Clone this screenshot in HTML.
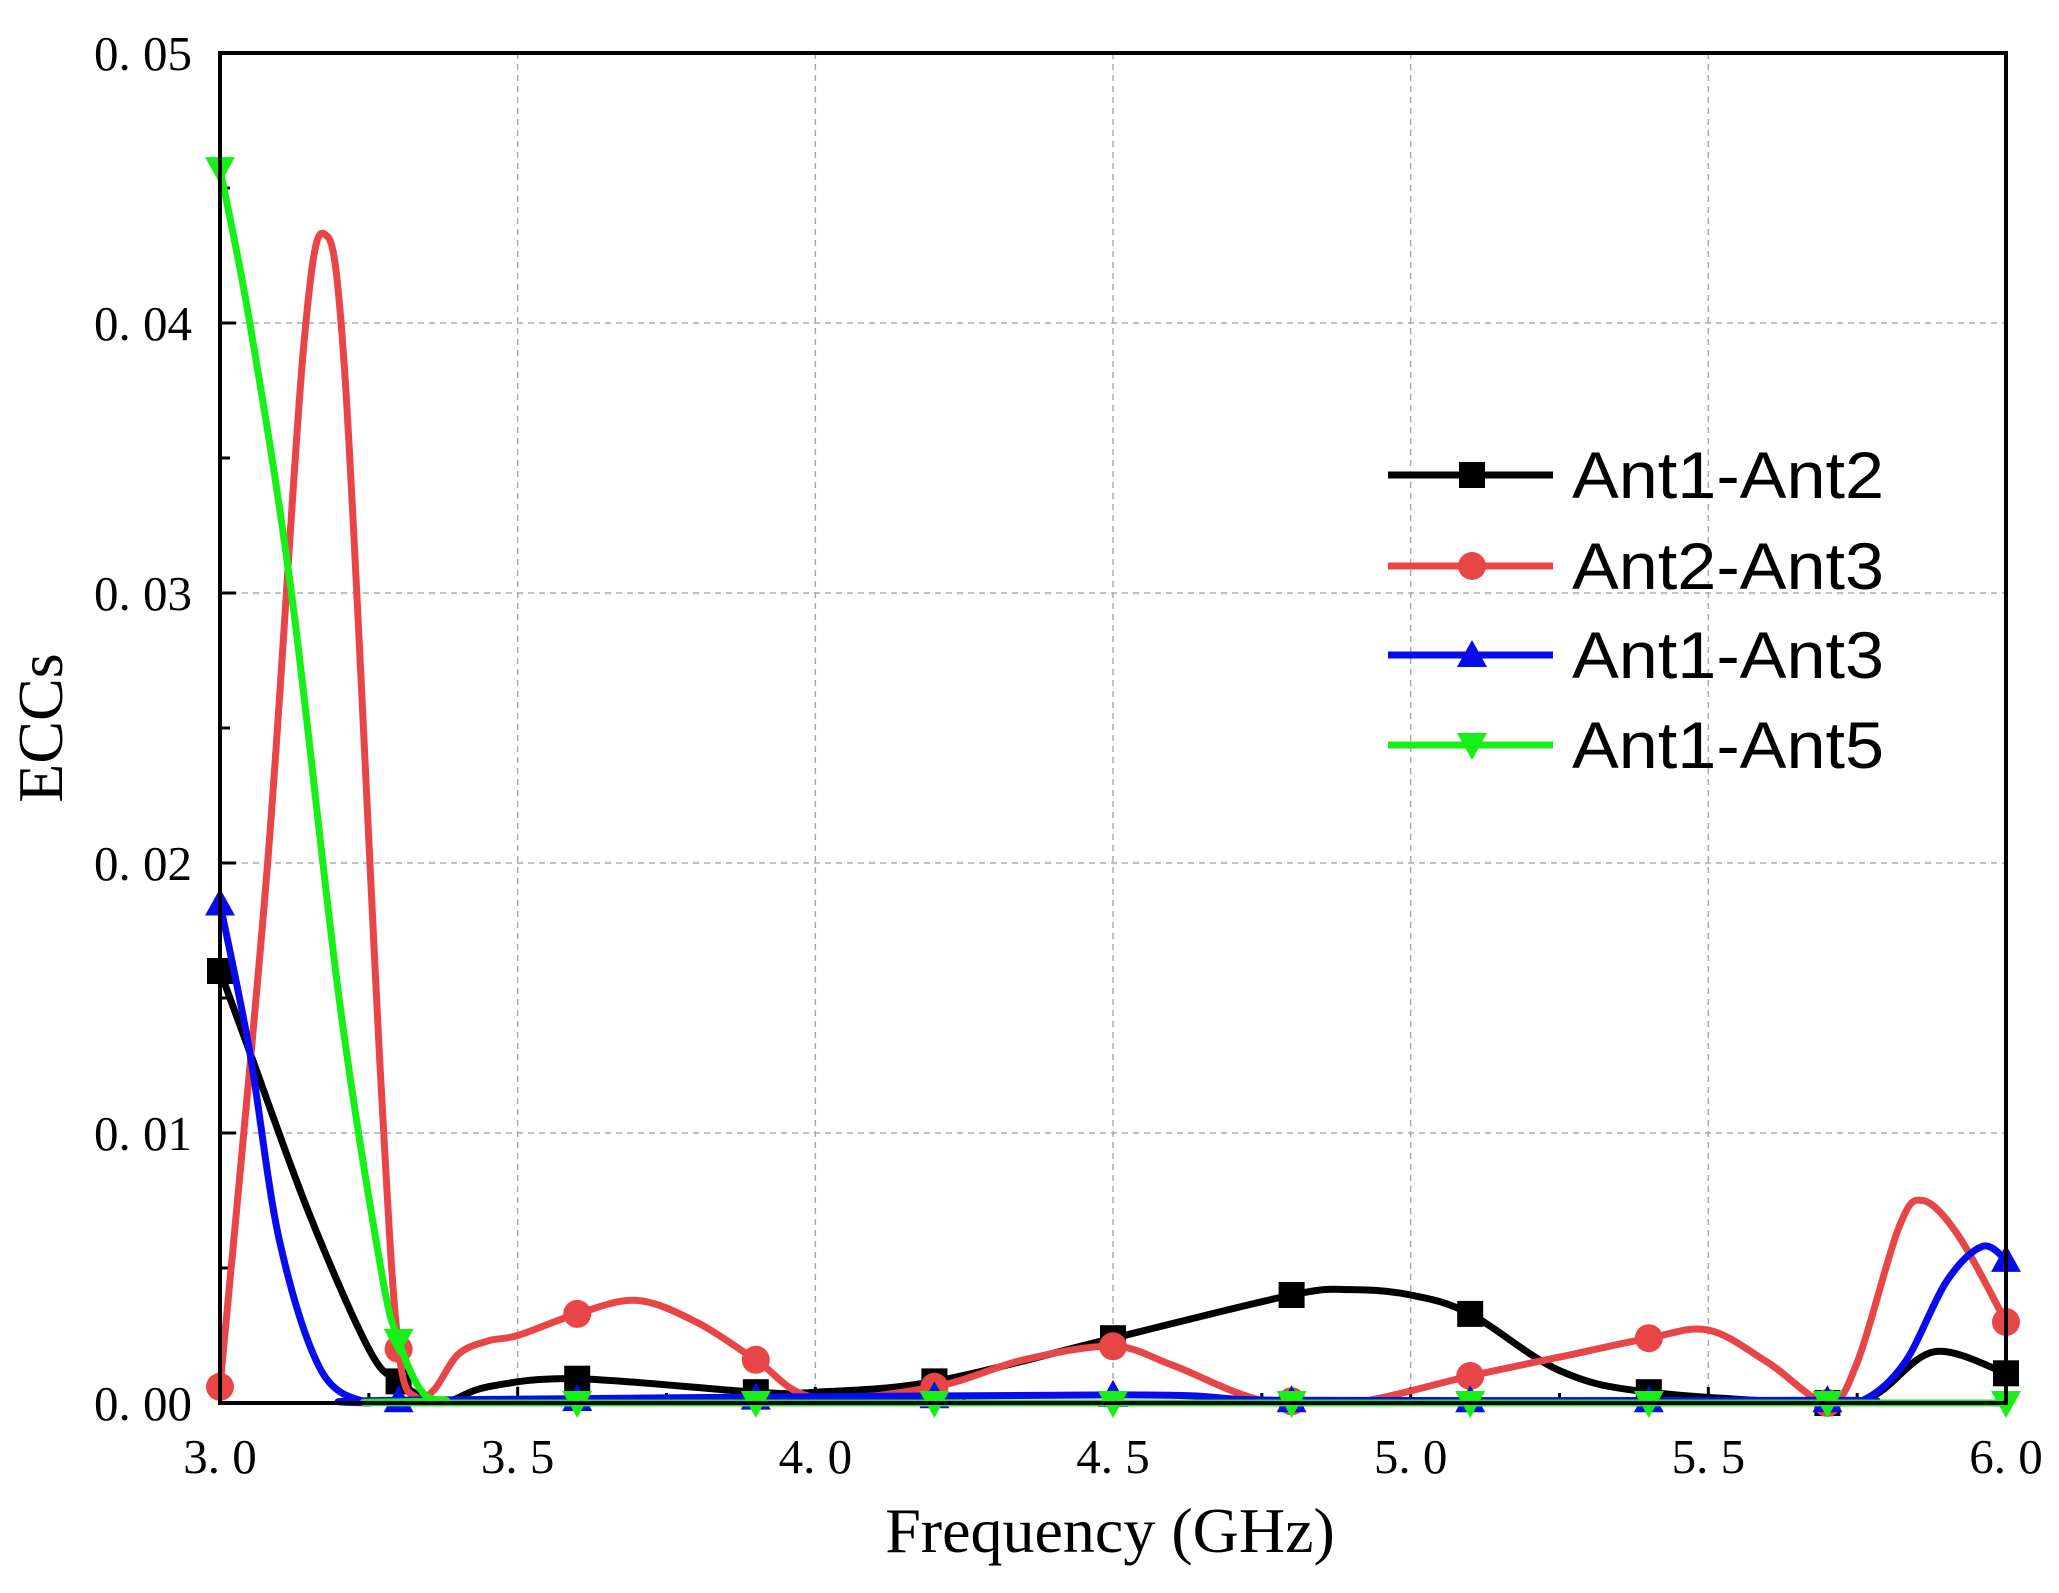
<!DOCTYPE html>
<html><head><meta charset="utf-8"><style>
html,body{margin:0;padding:0;background:#fff;width:2059px;height:1593px;overflow:hidden}
</style></head><body>
<svg id="s" width="2059" height="1593" xmlns="http://www.w3.org/2000/svg" font-family="'Liberation Serif', serif"></svg>
<script>
const X0=220,X1=2006,Y0=1403,Y1=53;
const fx=f=>X0+(f-3)/3*(X1-X0), fy=v=>Y0-v/0.05*(Y0-Y1);
let h='';
for(const f of [3.5,4,4.5,5,5.5]) h+=`<line x1="${fx(f)}" y1="${Y1}" x2="${fx(f)}" y2="${Y0}" stroke="#aaa" stroke-width="1.5" stroke-dasharray="6,5"/>`;
for(const v of [0.01,0.02,0.03,0.04]) h+=`<line x1="${X0}" y1="${fy(v)}" x2="${X1}" y2="${fy(v)}" stroke="#aaa" stroke-width="1.5" stroke-dasharray="6,5"/>`;
for(let i=0;i<=10;i++){const v=i*0.005;const L=i%2?10:16;h+=`<line x1="${X0}" y1="${fy(v)}" x2="${X0+L}" y2="${fy(v)}" stroke="#000" stroke-width="3"/>`;}
for(let i=0;i<=12;i++){const f=3+i*0.25;const L=i%2?10:16;h+=`<line x1="${fx(f)}" y1="${Y0}" x2="${fx(f)}" y2="${Y0-L}" stroke="#000" stroke-width="3"/>`;}
const lab=["0. 00","0. 01","0. 02","0. 03","0. 04","0. 05"];
lab.forEach((t,i)=>h+=`<text x="${X0-28}" y="${fy(i*0.01)+17}" font-size="49" text-anchor="end">${t}</text>`);
["3. 0","3. 5","4. 0","4. 5","5. 0","5. 5","6. 0"].forEach((t,i)=>h+=`<text x="${fx(3+i*0.5)}" y="${Y0+70}" font-size="49" text-anchor="middle">${t}</text>`);
h+=`<text x="1110" y="1552" font-size="64" text-anchor="middle">Frequency (GHz)</text>`;
h+=`<text transform="translate(62,728) rotate(-90)" font-size="64" text-anchor="middle">ECCs</text>`;
const D={
k:[[3,0.016],[3.05,0.013],[3.15,0.007],[3.25,0.002],[3.3,0.0008],[3.37,0],[3.45,0.0006],[3.6,0.0009],[3.9,0.0004],[4,0.0004],[4.2,0.0008],[4.5,0.0024],[4.8,0.004],[4.9,0.0042],[5,0.004],[5.1,0.0033],[5.25,0.0012],[5.4,0.0004],[5.7,0],[5.78,0.0003],[5.88,0.0019],[6,0.0011]],
r:[[3,0.0006],[3.08,0.02],[3.14,0.039],[3.175,0.0433],[3.21,0.038],[3.27,0.012],[3.3,0.002],[3.33,0.0002],[3.36,0.0005],[3.4,0.0018],[3.45,0.0023],[3.5,0.0025],[3.6,0.0033],[3.7,0.0038],[3.8,0.003],[3.9,0.0016],[4,0.0002],[4.2,0.0006],[4.35,0.0016],[4.5,0.0021],[4.6,0.0014],[4.75,0.0001],[4.9,0],[5.1,0.001],[5.25,0.0017],[5.4,0.0024],[5.5,0.0027],[5.6,0.0015],[5.7,0],[5.75,0.0015],[5.82,0.0065],[5.86,0.0075],[5.92,0.0062],[6,0.003]],
b:[[3,0.0185],[3.05,0.013],[3.1,0.006],[3.17,0.0012],[3.25,0],[3.3,0.0001],[4.5,0.0003],[4.8,0.0001],[5.7,0.0001],[5.76,0.0001],[5.83,0.0015],[5.9,0.0045],[5.96,0.0058],[6,0.0053]],
g:[[3,0.0457],[3.05,0.04],[3.12,0.03],[3.2,0.015],[3.27,0.005],[3.3,0.0023],[3.34,0.0004],[3.38,0.0001],[3.45,0],[6,0]]};
const C={k:'#000',r:'#e84646',b:'#0a0aee',g:'#16f016'};
function path(p){const q=p.map(([f,v])=>[fx(f),fy(v)]);let d=`M${q[0][0]},${q[0][1]}`;
for(let i=0;i<q.length-1;i++){const a=q[Math.max(0,i-1)],b=q[i],c=q[i+1],e=q[Math.min(q.length-1,i+2)];
let y1=b[1]+(c[1]-a[1])/6,y2=c[1]-(e[1]-b[1])/6;y1=Math.min(y1,Y0);y2=Math.min(y2,Y0);
d+=` C${b[0]+(c[0]-a[0])/6},${y1} ${c[0]-(e[0]-b[0])/6},${y2} ${c[0]},${c[1]}`;}return d;}
function interp(p,f){for(let i=0;i<p.length-1;i++){if(f>=p[i][0]-1e-9&&f<=p[i+1][0]+1e-9){const t=(f-p[i][0])/(p[i+1][0]-p[i][0]);return p[i][1]+t*(p[i+1][1]-p[i][1]);}}return p[p.length-1][1];}
function mk(t,x,y){const c=C[t];
if(t=='k')return `<rect x="${x-13}" y="${y-13}" width="26" height="26" fill="${c}"/>`;
if(t=='r')return `<circle cx="${x}" cy="${y}" r="14" fill="${c}"/>`;
if(t=='b')return `<polygon points="${x},${y-15} ${x-15},${y+12} ${x+15},${y+12}" fill="${c}"/>`;
return `<polygon points="${x},${y+15} ${x-15},${y-12} ${x+15},${y-12}" fill="${c}"/>`;}
for(const t of ['k','r','b','g']){h+=`<path d="${path(D[t])}" fill="none" stroke="${C[t]}" stroke-width="7" stroke-linejoin="round"/>`;
for(let i=0;i<=10;i++){const f=3+i*0.3;h+=mk(t,fx(f),fy(Math.max(0,interp(D[t],f))));}}
h+=`<rect x="${X0}" y="${Y1}" width="${X1-X0}" height="${Y0-Y1}" fill="none" stroke="#000" stroke-width="4"/>`;
[['k','Ant1-Ant2',475],['r','Ant2-Ant3',566],['b','Ant1-Ant3',655],['g','Ant1-Ant5',745]].forEach(([t,s,y])=>{
h+=`<line x1="1388" y1="${y}" x2="1553" y2="${y}" stroke="${C[t]}" stroke-width="7"/>`+mk(t,1472,y);
h+=`<text x="1572" y="${y+23}" font-size="66" textLength="312" lengthAdjust="spacingAndGlyphs" font-family="'Liberation Sans',sans-serif">${s}</text>`;});
document.getElementById('s').innerHTML=h;
</script>
</body></html>
